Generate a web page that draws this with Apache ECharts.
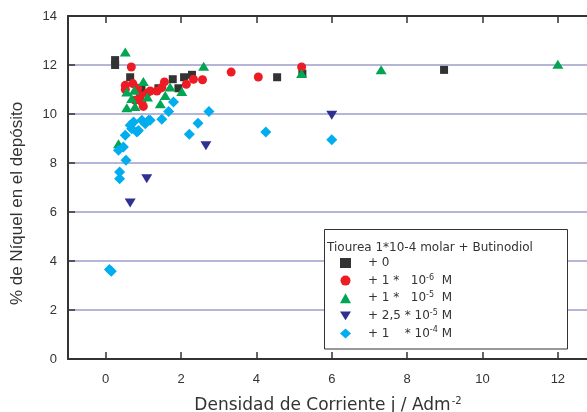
<!DOCTYPE html>
<html>
<head>
<meta charset="utf-8">
<script src="https://cdn.jsdelivr.net/npm/echarts@6/dist/echarts.min.js"></script>
<style>
  html, body { margin: 0; padding: 0; background: #fff; }
  #chart { width: 587px; height: 412px; }
</style>
</head>
<body>
<div id="chart"></div>
<script>
// datos: [densidad de corriente, % Ni]
var xTicks = [0, 2, 4, 6, 8, 10, 12]
var legendNames = ['+0', '+1e-6', '+1e-5', '+2.5e-5', '+1e-4']

var sinAditivo = [[0.25, 12.2], [0.25, 12.0], [0.65, 11.5], [0.95, 11.0], [1.4, 11.05], [1.78, 11.42],
    [1.93, 11.05], [2.08, 11.5], [2.29, 11.6], [4.55, 11.5], [5.22, 11.65], [8.98, 11.8]]
var but1e6 = [[0.68, 11.92], [0.52, 11.17], [0.52, 11.0], [0.72, 11.24], [0.78, 10.56], [0.92, 10.76],
    [0.96, 10.49], [1.0, 10.31], [1.1, 10.85], [0.85, 11.05], [1.18, 10.94], [1.36, 10.94], [1.49, 11.08],
    [1.56, 11.31], [2.14, 11.21], [2.33, 11.42], [2.57, 11.4], [3.33, 11.71], [4.05, 11.51], [5.2, 11.92]]
var but1e5 = [[0.52, 12.53], [2.6, 11.95], [1.0, 11.33], [0.56, 10.9], [0.76, 10.97], [0.69, 10.63],
    [0.56, 10.26], [0.78, 10.31], [1.11, 10.69], [1.45, 10.42], [1.58, 10.76], [1.71, 11.1], [2.02, 10.92],
    [0.34, 8.79], [5.2, 11.65], [7.31, 11.81], [12.0, 12.03]]
var but25e5 = [[0.65, 6.37], [1.09, 7.36], [2.66, 8.7], [6.0, 9.95]]
var but1e4 = [[0.1, 3.65], [0.15, 3.58], [0.37, 7.63], [0.37, 7.36], [0.54, 8.11], [0.34, 8.52], [0.47, 8.65],
    [0.52, 9.13], [0.65, 9.54], [0.69, 9.4], [0.74, 9.67], [0.83, 9.27], [0.87, 9.33], [0.96, 9.74],
    [1.05, 9.6], [1.14, 9.74], [1.18, 9.74], [1.49, 9.79], [1.67, 10.1], [1.8, 10.49], [2.22, 9.17],
    [2.45, 9.62], [2.74, 10.1], [4.25, 9.27], [6.0, 8.95]]

var legendText = {
    '+0': '+ 0',
    '+1e-6': '+ 1 *   10{s|-6}  M',
    '+1e-5': '+ 1 *   10{s|-5}  M',
    '+2.5e-5': '+ 2,5 * 10{s|-5} M',
    '+1e-4': '+ 1    * 10{s|-4} M'
}

var font = 'Liberation Sans, Arial, sans-serif'
var wide = 'DejaVu Sans, sans-serif'
var axisCol = '#333'
var trianguloInv = 'path://M0,0L10,0L5,8Z'

function serie(name, data, symbol, size, color) {
    return {
        name: name,
        type: 'scatter',
        data: data,
        symbol: symbol,
        symbolSize: size,
        itemStyle: { color: color, opacity: 1 },
        emphasis: { disabled: true }
    }
}

var chart = echarts.init(document.getElementById('chart'))
chart.setOption({
    animation: false,
    textStyle: { fontFamily: font },
    grid: { left: 68, right: -1, top: 16, bottom: 53, outerBoundsMode: 'none', containLabel: false },
    xAxis: [{
        type: 'value', min: -1, max: 12.8,
        name: 'Densidad de Corriente j / Adm{s|-2}',
        nameLocation: 'middle', nameGap: 37,
        nameTextStyle: {
            fontSize: 17, color: axisCol, fontFamily: wide, lineHeight: 20,
            rich: { s: { fontSize: 10, fontFamily: wide, verticalAlign: 'top', lineHeight: 20, padding: [0, 0, 8, 1] } }
        },
        axisLine: { show: true, onZero: false, lineStyle: { color: axisCol, width: 2 } },
        axisTick: { show: true, inside: true, length: 7, customValues: xTicks, lineStyle: { color: axisCol, width: 1.5 } },
        axisLabel: { customValues: xTicks, color: axisCol, fontSize: 13, margin: 14 },
        splitLine: { show: false }
    }, {
        type: 'value', min: -1, max: 12.8, position: 'top',
        axisLine: { show: true, onZero: false, lineStyle: { color: axisCol, width: 2 } },
        axisTick: { show: true, inside: true, length: 7, customValues: xTicks, lineStyle: { color: axisCol, width: 1.5 } },
        axisLabel: { show: false },
        splitLine: { show: false }
    }],
    yAxis: {
        type: 'value', min: 0, max: 14, interval: 2,
        name: '% de Níquel en el depósito',
        nameLocation: 'middle', nameGap: 42,
        nameTextStyle: { fontSize: 17, color: axisCol, padding: [0, 32, 0, 0] },
        axisLine: { show: true, onZero: false, lineStyle: { color: axisCol, width: 2 } },
        axisTick: { show: true, inside: true, length: 7, lineStyle: { color: axisCol, width: 1.5 } },
        axisLabel: { color: axisCol, fontSize: 13, margin: 11 },
        splitLine: { show: true, lineStyle: { color: '#9c9cca', width: 1.5 } }
    },
    graphic: [{
        type: 'rect', z: 10,
        shape: { x: 324.5, y: 229.5, width: 243, height: 119.5 },
        style: { fill: '#fff', stroke: axisCol, lineWidth: 1 }
    }, {
        type: 'text', z: 11, left: 327, top: 242,
        style: { text: 'Tiourea 1*10-4 molar + Butinodiol', fill: axisCol, font: '12px ' + wide }
    }],
    legend: {
        data: legendNames,
        orient: 'vertical', left: 335, top: 251, z: 12,
        itemWidth: 11, itemHeight: 10, itemGap: 3.6,
        selectedMode: false,
        formatter: function(n) { return legendText[n] },
        textStyle: {
            fontSize: 12, fontFamily: wide, color: axisCol, lineHeight: 14, padding: [0, 0, 0, 12],
            rich: { s: { fontSize: 8, fontFamily: wide, verticalAlign: 'top', lineHeight: 14, padding: [0, 0, 6, 0] } }
        }
    },
    series: [
        serie('+0', sinAditivo, 'rect', 8, '#333333'),
        serie('+1e-6', but1e6, 'circle', 9, '#ed1c24'),
        serie('+1e-5', but1e5, 'triangle', [11, 9], '#00a651'),
        serie('+2.5e-5', but25e5, trianguloInv, [11, 9], '#2e3192'),
        serie('+1e-4', but1e4, 'diamond', [11, 11], '#00aeef')
    ]
})
</script>
</body>
</html>
